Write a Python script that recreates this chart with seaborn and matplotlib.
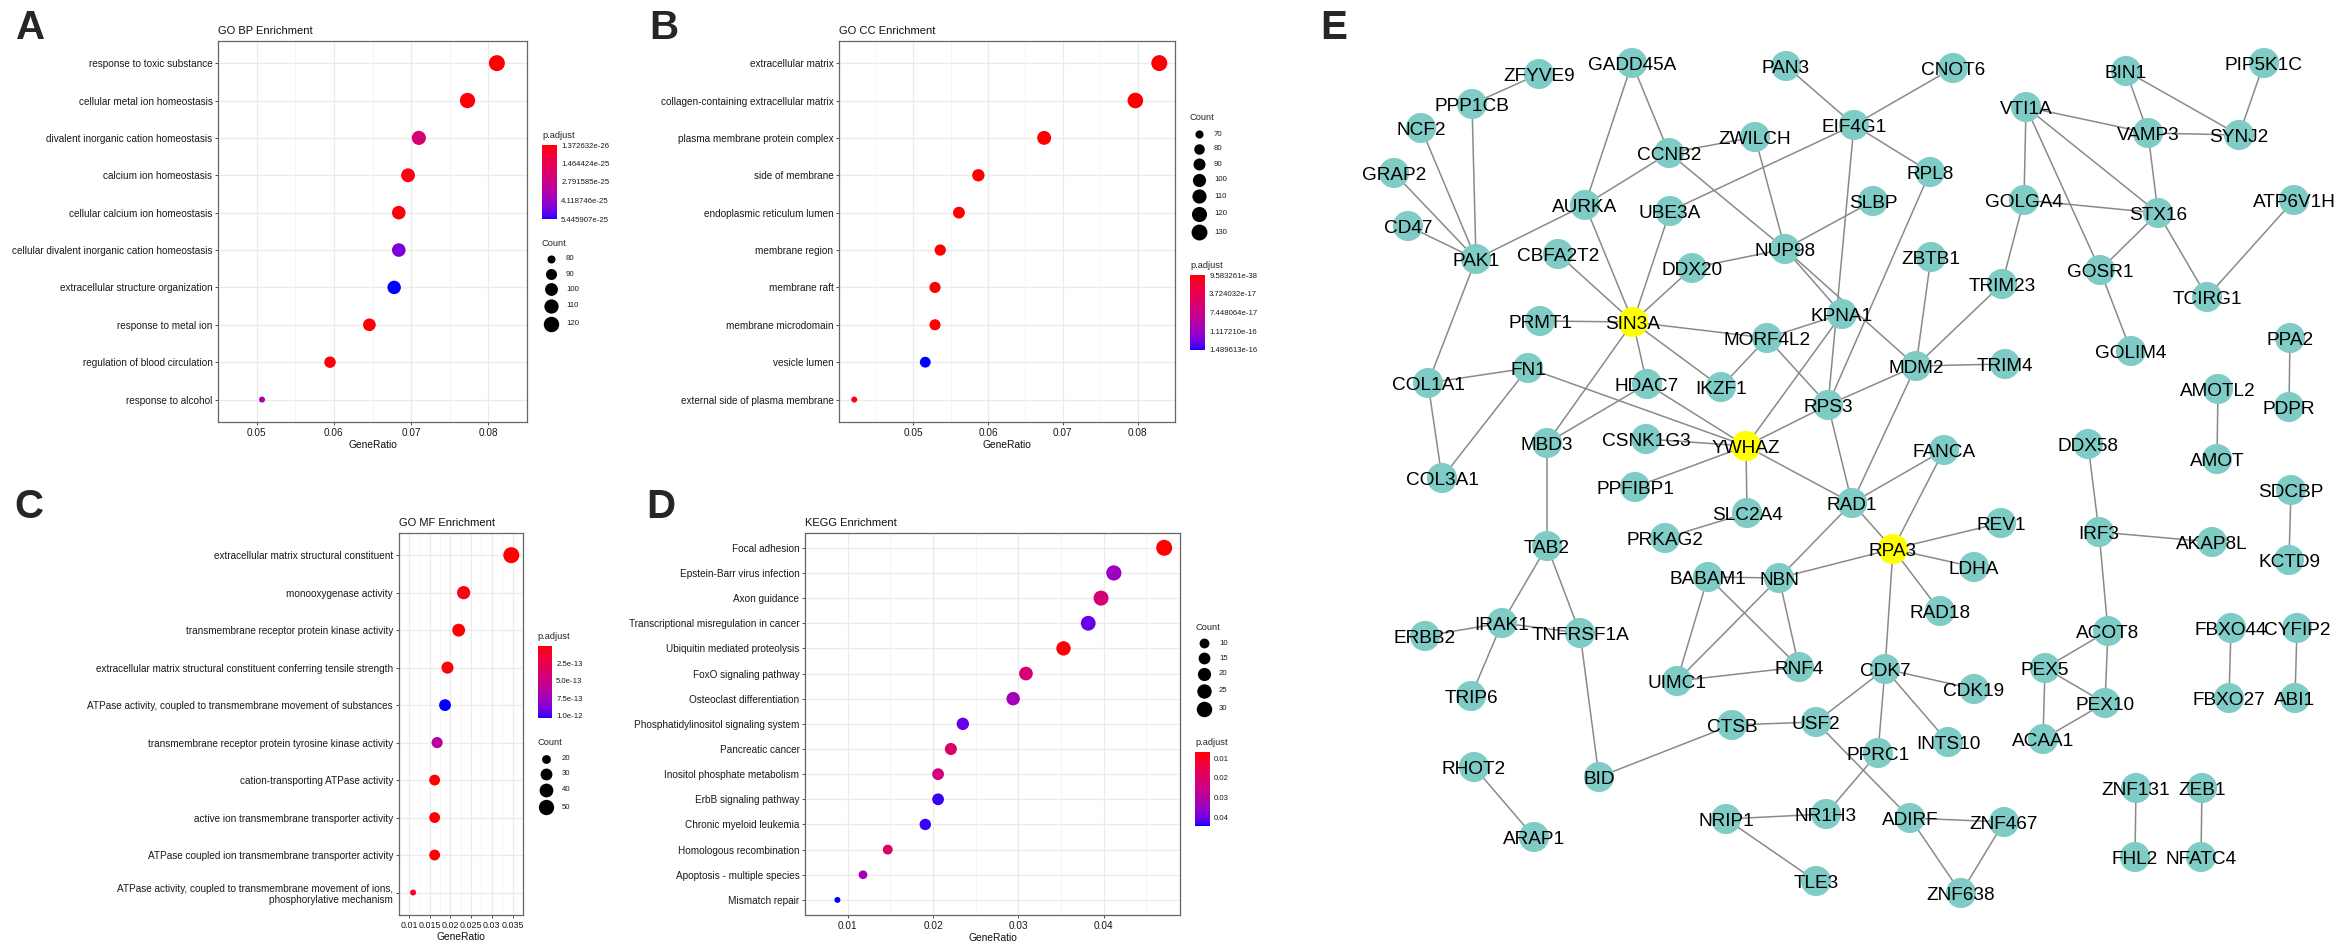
import numpy as np
import pandas as pd
import seaborn as sns
import matplotlib
matplotlib.use("Agg")
import matplotlib.pyplot as plt
from matplotlib.colors import ListedColormap, Normalize
from matplotlib.cm import ScalarMappable
from matplotlib.collections import LineCollection

W, H = 2342, 943

# ---------------- data: GO BP ----------------
bp_terms = ["response to toxic substance", "cellular metal ion homeostasis",
            "divalent inorganic cation homeostasis", "calcium ion homeostasis",
            "cellular calcium ion homeostasis", "cellular divalent inorganic cation homeostasis",
            "extracellular structure organization", "response to metal ion",
            "regulation of blood circulation", "response to alcohol"]
bp_ratio = [0.0811, 0.0773, 0.0710, 0.0696, 0.0684, 0.0684, 0.0678, 0.0646, 0.0595, 0.0507]
bp_count = [125, 119, 109, 107, 105, 105, 104, 99, 92, 78]
bp_padj = [1.372632e-26, 2.0e-26, 2.26e-25, 2.9e-26, 2.2e-26, 4.65e-25,
           5.445907e-25, 1.8e-26, 2.5e-26, 3.85e-25]
bp_xticks = [0.05, 0.06, 0.07, 0.08]
bp_pbreaks = [1.372632e-26, 1.464424e-25, 2.791585e-25, 4.118746e-25, 5.445907e-25]
bp_plabels = ["1.372632e-26", "1.464424e-25", "2.791585e-25", "4.118746e-25", "5.445907e-25"]
bp_cbreaks = [80, 90, 100, 110, 120]

# ---------------- data: GO CC ----------------
cc_terms = ["extracellular matrix", "collagen-containing extracellular matrix",
            "plasma membrane protein complex", "side of membrane",
            "endoplasmic reticulum lumen", "membrane region", "membrane raft",
            "membrane microdomain", "vesicle lumen", "external side of plasma membrane"]
cc_ratio = [0.0829, 0.0797, 0.0675, 0.0587, 0.0561, 0.0536, 0.0529, 0.0529, 0.0516, 0.0421]
cc_count = [131, 126, 107, 93, 89, 85, 84, 84, 82, 67]
cc_padj = [9.583261e-38, 1.2e-35, 4.1e-25, 3.5e-21, 6.3e-20, 2.2e-19, 8.1e-19,
           8.1e-19, 1.489613e-16, 4.4e-18]
cc_xticks = [0.05, 0.06, 0.07, 0.08]
cc_pbreaks = [9.583261e-38, 3.724032e-17, 7.448064e-17, 1.117210e-16, 1.489613e-16]
cc_plabels = ["9.583261e-38", "3.724032e-17", "7.448064e-17", "1.117210e-16", "1.489613e-16"]
cc_cbreaks = [70, 80, 90, 100, 110, 120, 130]

# ---------------- data: GO MF ----------------
mf_terms = ["extracellular matrix structural constituent", "monooxygenase activity",
            "transmembrane receptor protein kinase activity",
            "extracellular matrix structural constituent conferring tensile strength",
            "ATPase activity, coupled to transmembrane movement of substances",
            "transmembrane receptor protein tyrosine kinase activity",
            "cation-transporting ATPase activity",
            "active ion transmembrane transporter activity",
            "ATPase coupled ion transmembrane transporter activity",
            "ATPase activity, coupled to transmembrane movement of ions,\nphosphorylative mechanism"]
mf_ratio = [0.0347, 0.0232, 0.0220, 0.0193, 0.0187, 0.0168, 0.0162, 0.0162, 0.0162, 0.0110]
mf_count = [55, 37, 35, 31, 30, 27, 26, 26, 26, 17]
mf_padj = [1.1e-16, 4.0e-14, 8.0e-15, 1.5e-14, 1.04e-12, 6.2e-13, 3.0e-15, 3.0e-15, 3.0e-15, 1.5e-13]
mf_xticks = [0.01, 0.015, 0.02, 0.025, 0.03, 0.035]
mf_pbreaks = [2.5e-13, 5.0e-13, 7.5e-13, 1.0e-12]
mf_plabels = ["2.5e-13", "5.0e-13", "7.5e-13", "1.0e-12"]
mf_cbreaks = [20, 30, 40, 50]

# ---------------- data: KEGG ----------------
kegg_terms = ["Focal adhesion", "Epstein-Barr virus infection", "Axon guidance",
              "Transcriptional misregulation in cancer", "Ubiquitin mediated proteolysis",
              "FoxO signaling pathway", "Osteoclast differentiation",
              "Phosphatidylinositol signaling system", "Pancreatic cancer",
              "Inositol phosphate metabolism", "ErbB signaling pathway",
              "Chronic myeloid leukemia", "Homologous recombination",
              "Apoptosis - multiple species", "Mismatch repair"]
kegg_ratio = [0.0471, 0.0412, 0.0397, 0.0382, 0.0353, 0.0309, 0.0294, 0.0235, 0.0221,
              0.0206, 0.0206, 0.0191, 0.0147, 0.0118, 0.0088]
kegg_count = [33, 29, 28, 27, 25, 22, 21, 17, 16, 15, 15, 14, 10, 8, 6]
kegg_padj = [0.0068, 0.0345, 0.0224, 0.0403, 0.0075, 0.0224, 0.0330, 0.0403, 0.0202,
             0.0235, 0.0429, 0.0429, 0.0198, 0.0330, 0.0440]
kegg_xticks = [0.01, 0.02, 0.03, 0.04]
kegg_pbreaks = [0.01, 0.02, 0.03, 0.04]
kegg_plabels = ["0.01", "0.02", "0.03", "0.04"]
kegg_cbreaks = [10, 15, 20, 25, 30]

# ---------------- data: PPI network (layout coordinates) ----------------
node_names = ["ZFYVE9", "GADD45A", "PPP1CB", "NCF2", "GRAP2", "CD47", "PAK1", "CCNB2",
              "AURKA", "UBE3A", "CBFA2T2", "DDX20", "PRMT1", "SIN3A", "COL1A1", "FN1",
              "HDAC7", "IKZF1", "MBD3", "CSNK1G3", "YWHAZ", "COL3A1", "ZWILCH", "PAN3",
              "CNOT6", "EIF4G1", "RPL8", "SLBP", "NUP98", "ZBTB1", "KPNA1", "MORF4L2",
              "MDM2", "TRIM4", "TRIM23", "RPS3", "FANCA", "VTI1A", "BIN1", "PIP5K1C",
              "VAMP3", "SYNJ2", "GOLGA4", "STX16", "ATP6V1H", "GOSR1", "TCIRG1", "GOLIM4",
              "PPA2", "AMOTL2", "PDPR", "DDX58", "AMOT", "SDCBP", "KCTD9", "IRF3",
              "AKAP8L", "RAD1", "SLC2A4", "RPA3", "REV1", "LDHA", "RAD18", "NBN", "RNF4",
              "CDK7", "CDK19", "USF2", "CTSB", "PPRC1", "INTS10", "NRIP1", "NR1H3",
              "ADIRF", "ZNF467", "TLE3", "ZNF638", "ACOT8", "PEX5", "PEX10", "ACAA1",
              "FBXO44", "CYFIP2", "FBXO27", "ABI1", "ZNF131", "ZEB1", "FHL2", "NFATC4",
              "BABAM1", "UIMC1", "TAB2", "PPFIBP1", "PRKAG2", "IRAK1", "ERBB2",
              "TNFRSF1A", "TRIP6", "BID", "RHOT2", "ARAP1"]
node_x = [1539, 1632, 1472, 1421, 1394, 1408, 1476, 1669, 1585, 1670, 1558, 1692, 1540,
          1633, 1428, 1528, 1647, 1721, 1547, 1646, 1746, 1442, 1755, 1786, 1953, 1854,
          1930, 1873, 1785, 1931, 1842, 1767, 1916, 2005, 2002, 1828, 1944, 2026, 2126,
          2264, 2148, 2239, 2024, 2158, 2294, 2100, 2207, 2131, 2290, 2218, 2289, 2088,
          2217, 2291, 2289, 2099, 2212, 1852, 1747, 1893, 2001, 1974, 1940, 1779, 1799,
          1885, 1974, 1816, 1732, 1878, 1948, 1726, 1826, 1910, 2004, 1816, 1961, 2108,
          2045, 2105, 2043, 2231, 2297, 2229, 2295, 2136, 2202, 2135, 2201, 1708, 1677,
          1547, 1635, 1665, 1502, 1425, 1580, 1471, 1599, 1474, 1534]
node_y = [74, 63, 104, 128, 173, 226, 259, 153, 205, 211, 254, 268, 321, 322, 383, 368,
          384, 387, 443, 439, 446, 478, 137, 66, 68, 125, 172, 201, 249, 257, 314, 338,
          366, 364, 284, 405, 450, 107, 71, 63, 133, 135, 200, 213, 200, 270, 297, 351,
          338, 389, 407, 444, 459, 490, 560, 532, 542, 503, 513, 549, 523, 567, 611, 578,
          667, 669, 689, 722, 725, 753, 742, 819, 814, 818, 822, 881, 893, 631, 668, 703,
          739, 628, 628, 698, 698, 788, 788, 857, 857, 577, 681, 546, 487, 538, 623, 636,
          633, 696, 777, 767, 837]
hub_nodes = ["SIN3A", "YWHAZ", "RPA3"]
edges = [("ZFYVE9", "PPP1CB"), ("PPP1CB", "PAK1"), ("NCF2", "PAK1"), ("GRAP2", "PAK1"),
         ("CD47", "PAK1"), ("PAK1", "AURKA"), ("PAK1", "COL1A1"), ("GADD45A", "AURKA"),
         ("GADD45A", "CCNB2"), ("CCNB2", "AURKA"), ("CCNB2", "ZWILCH"), ("CCNB2", "NUP98"),
         ("AURKA", "SIN3A"), ("UBE3A", "SIN3A"), ("UBE3A", "EIF4G1"), ("CBFA2T2", "SIN3A"),
         ("DDX20", "SIN3A"), ("DDX20", "NUP98"), ("PRMT1", "SIN3A"), ("SIN3A", "MORF4L2"),
         ("SIN3A", "HDAC7"), ("SIN3A", "IKZF1"), ("SIN3A", "MBD3"), ("COL1A1", "FN1"),
         ("COL1A1", "COL3A1"), ("FN1", "COL3A1"), ("FN1", "YWHAZ"), ("HDAC7", "YWHAZ"),
         ("HDAC7", "MBD3"), ("CSNK1G3", "YWHAZ"), ("MORF4L2", "IKZF1"), ("MORF4L2", "KPNA1"),
         ("MORF4L2", "RPS3"), ("PAN3", "EIF4G1"), ("CNOT6", "EIF4G1"), ("EIF4G1", "RPL8"),
         ("EIF4G1", "RPS3"), ("ZWILCH", "NUP98"), ("SLBP", "NUP98"), ("NUP98", "KPNA1"),
         ("NUP98", "MDM2"), ("RPL8", "RPS3"), ("ZBTB1", "MDM2"), ("TRIM23", "MDM2"),
         ("MDM2", "TRIM4"), ("MDM2", "RPS3"), ("MDM2", "RAD1"), ("KPNA1", "YWHAZ"),
         ("YWHAZ", "RPS3"), ("YWHAZ", "PPFIBP1"), ("YWHAZ", "SLC2A4"), ("YWHAZ", "RAD1"),
         ("RPS3", "RAD1"), ("RAD1", "FANCA"), ("RAD1", "RPA3"), ("RAD1", "NBN"),
         ("FANCA", "RPA3"), ("RPA3", "REV1"), ("RPA3", "LDHA"), ("RPA3", "RAD18"),
         ("RPA3", "NBN"), ("RPA3", "CDK7"), ("MBD3", "TAB2"), ("PRKAG2", "SLC2A4"),
         ("TAB2", "IRAK1"), ("TAB2", "TNFRSF1A"), ("IRAK1", "ERBB2"), ("IRAK1", "TNFRSF1A"),
         ("IRAK1", "TRIP6"), ("TNFRSF1A", "BID"), ("BID", "CTSB"), ("RHOT2", "ARAP1"),
         ("BABAM1", "NBN"), ("BABAM1", "UIMC1"), ("BABAM1", "RNF4"), ("UIMC1", "NBN"),
         ("UIMC1", "RNF4"), ("NBN", "RNF4"), ("CDK7", "CDK19"), ("CDK7", "INTS10"),
         ("CDK7", "USF2"), ("CDK7", "PPRC1"), ("USF2", "CTSB"), ("USF2", "ADIRF"),
         ("PPRC1", "NR1H3"), ("NRIP1", "NR1H3"), ("NRIP1", "TLE3"), ("ADIRF", "ZNF467"),
         ("ADIRF", "ZNF638"), ("ZNF467", "ZNF638"), ("VTI1A", "VAMP3"), ("VTI1A", "GOLGA4"),
         ("VTI1A", "GOSR1"), ("VTI1A", "STX16"), ("BIN1", "VAMP3"), ("BIN1", "SYNJ2"),
         ("PIP5K1C", "SYNJ2"), ("VAMP3", "SYNJ2"), ("VAMP3", "STX16"), ("GOLGA4", "STX16"),
         ("GOLGA4", "TRIM23"), ("STX16", "GOSR1"), ("STX16", "TCIRG1"), ("ATP6V1H", "TCIRG1"),
         ("GOSR1", "GOLIM4"), ("PPA2", "PDPR"), ("AMOTL2", "AMOT"), ("DDX58", "IRF3"),
         ("IRF3", "AKAP8L"), ("IRF3", "ACOT8"), ("SDCBP", "KCTD9"), ("ACOT8", "PEX5"),
         ("ACOT8", "PEX10"), ("PEX5", "PEX10"), ("PEX5", "ACAA1"), ("PEX10", "ACAA1"),
         ("FBXO44", "FBXO27"), ("CYFIP2", "ABI1"), ("ZNF131", "FHL2"), ("ZEB1", "NFATC4")]

sns.set_theme(style="white")
plt.rcParams["font.family"] = ["Liberation Sans", "DejaVu Sans"]

# red -> blue ramp interpolated in CIELAB (like ggplot's gradient)
M = np.array([[0.4124, 0.3576, 0.1805], [0.2126, 0.7152, 0.0722], [0.0193, 0.1192, 0.9505]])
WHITE = np.array([0.95047, 1.0, 1.08883])


def to_lab(rgb):
    c = np.asarray(rgb, float)
    lin = np.where(c <= 0.04045, c / 12.92, ((c + 0.055) / 1.055) ** 2.4)
    t = M @ lin / WHITE
    f = np.where(t > (6 / 29) ** 3, np.cbrt(t), t / (3 * (6 / 29) ** 2) + 4 / 29)
    return np.array([116 * f[1] - 16, 500 * (f[0] - f[1]), 200 * (f[1] - f[2])])


def from_lab(lab):
    fy = (lab[0] + 16) / 116
    f = np.array([fy + lab[1] / 500, fy, fy - lab[2] / 200])
    xyz = np.where(f > 6 / 29, f ** 3, 3 * (6 / 29) ** 2 * (f - 4 / 29)) * WHITE
    lin = np.clip(np.linalg.solve(M, xyz), 0, 1)
    return np.where(lin <= 0.0031308, 12.92 * lin, 1.055 * lin ** (1 / 2.4) - 0.055)


l1, l2 = to_lab((1, 0, 0)), to_lab((0, 0, 1))
cmap = ListedColormap([from_lab(l1 + t * (l2 - l1)) for t in np.linspace(0, 1, 256)])

fig = plt.figure(figsize=(W / 100, H / 100), dpi=100)
PT = 0.72  # points per pixel
DMIN, DMAX = 6.0, 16.0


def rect(x0, y0, x1, y1):
    return [x0 / W, 1 - y1 / H, (x1 - x0) / W, (y1 - y0) / H]


over = fig.add_axes([0, 0, 1, 1], zorder=10)
over.set_xlim(0, W)
over.set_ylim(H, 0)
over.set_autoscale_on(False)
over.axis("off")


def dotplot(terms, ratio, count, padj, title, xticks, pbreaks, plabels, cbreaks, box, cbar, cnt,
            xtick_size=7.2):
    df = pd.DataFrame({"Description": terms, "GeneRatio": ratio, "Count": count, "p.adjust": padj})
    ax = fig.add_axes(rect(*box))
    lo, hi = min(count), max(count)

    def diam(c):
        return DMIN + (DMAX - DMIN) * np.sqrt(np.clip((c - lo) / (hi - lo), 0, 1))

    sizes = {c: (diam(c) * PT) ** 2 for c in df["Count"].unique()}
    norm = Normalize(min(padj), max(padj))
    sns.scatterplot(data=df, x="GeneRatio", y="Description", hue="p.adjust", hue_norm=norm,
                    palette=cmap, size="Count", sizes=sizes, linewidth=0, legend=False,
                    ax=ax, zorder=3)
    r0, r1 = min(ratio), max(ratio)
    pad = 0.05 * (r1 - r0)
    ax.set_xlim(r0 - pad, r1 + pad)
    ax.set_ylim(len(terms) - 0.4, -0.6)
    step = xticks[1] - xticks[0]
    ax.set_xticks(xticks, labels=[f"{t:g}" for t in xticks])
    ax.set_xticks([xticks[0] - step / 2] + [t + step / 2 for t in xticks], minor=True)
    ax.grid(True, which="major", color="#EBEBEB", linewidth=0.9)
    ax.grid(True, which="minor", axis="x", color="#F4F4F4", linewidth=0.6)
    ax.set_axisbelow(True)
    for s in ax.spines.values():
        s.set_color("#666666")
        s.set_linewidth(0.9)
    ax.tick_params(which="major", bottom=True, left=True, length=2.5, width=0.6,
                   color="#333333", labelsize=7.2, labelcolor="#1a1a1a", pad=1.5)
    ax.tick_params(axis="x", which="major", labelsize=xtick_size)
    ax.tick_params(which="minor", length=0)
    ax.set_ylabel("")
    ax.set_xlabel("GeneRatio", fontsize=7.4, labelpad=1.5, color="#111111")
    ax.set_title(title, loc="left", fontsize=8, pad=5, color="#111111")

    # p.adjust colour bar
    cax = fig.add_axes(rect(*cbar))
    cb = fig.colorbar(ScalarMappable(norm=norm, cmap=cmap), cax=cax)
    cb.outline.set_visible(False)
    cb.set_ticks(pbreaks, labels=plabels)
    cax.invert_yaxis()
    cax.minorticks_off()
    cax.tick_params(axis="y", direction="in", length=3, width=0.6, color="white",
                    left=True, right=True, labelleft=False, labelright=True,
                    labelsize=5.6, pad=3, labelcolor="#1a1a1a")
    over.text(cbar[0], cbar[1] - 9, "p.adjust", fontsize=6.7, va="center", ha="left")

    # Count size legend
    tx, ty, dx = cnt
    over.text(tx, ty, "Count", fontsize=6.7, va="center", ha="left")
    ds = [diam(b) for b in cbreaks]
    hs = [max(15, d + 3) for d in ds]
    y = ty + 16
    for i, (b, d) in enumerate(zip(cbreaks, ds)):
        if i:
            y += (hs[i - 1] + hs[i]) / 2
        over.scatter([dx], [y], s=(d * PT) ** 2, color="black", linewidth=0)
        over.text(dx + 15, y, str(b), fontsize=5.6, va="center", ha="left", color="#1a1a1a")


dotplot(bp_terms, bp_ratio, bp_count, bp_padj, "GO BP Enrichment", bp_xticks, bp_pbreaks,
        bp_plabels, bp_cbreaks, (218, 40.7, 527, 422), (542, 145, 557, 219), (542, 243, 551))
dotplot(cc_terms, cc_ratio, cc_count, cc_padj, "GO CC Enrichment", cc_xticks, cc_pbreaks,
        cc_plabels, cc_cbreaks, (839, 40.7, 1175, 422), (1190, 275, 1205, 350), (1190, 118, 1199))
dotplot(mf_terms, mf_ratio, mf_count, mf_padj, "GO MF Enrichment", mf_xticks, mf_pbreaks,
        mf_plabels, mf_cbreaks, (398.6, 532.7, 522.9, 915), (537.5, 645.7, 552, 718.3),
        (537.5, 742.7, 546.4), xtick_size=6.4)
dotplot(kegg_terms, kegg_ratio, kegg_count, kegg_padj, "KEGG Enrichment", kegg_xticks,
        kegg_pbreaks, kegg_plabels, kegg_cbreaks, (805, 532.7, 1180.5, 915),
        (1195, 751.7, 1210, 825.7), (1195, 627.3, 1204))

# ---------------- panel E: network ----------------
axe = fig.add_axes(rect(1250, 0, W, H))
pos = dict(zip(node_names, zip(node_x, node_y)))
segs = [[pos[a], pos[b]] for a, b in edges]
axe.add_collection(LineCollection(segs, colors="#8A8A8A", linewidths=1.1, zorder=1))
kind = ["hub" if n in hub_nodes else "gene" for n in node_names]
sns.scatterplot(x=node_x, y=node_y, hue=kind, palette={"hub": "#FFFF00", "gene": "#7FCBC6"},
                s=470, linewidth=0, legend=False, ax=axe, zorder=2)
for n, x, y in zip(node_names, node_x, node_y):
    axe.annotate(n, (x, y), xytext=(0, -5), textcoords="offset points", ha="center",
                 va="baseline", fontsize=13.7, color="black", zorder=3)
axe.set_xlim(1250, W)
axe.set_ylim(H, 0)
axe.axis("off")

# panel letters
for letter, x, y in [("A", 16, 39), ("B", 649, 39), ("C", 14, 518), ("D", 646, 518), ("E", 1320, 39)]:
    over.text(x, y, letter, fontsize=29, fontweight="bold", va="baseline", ha="left")

fig.savefig("out.png", dpi=100)
